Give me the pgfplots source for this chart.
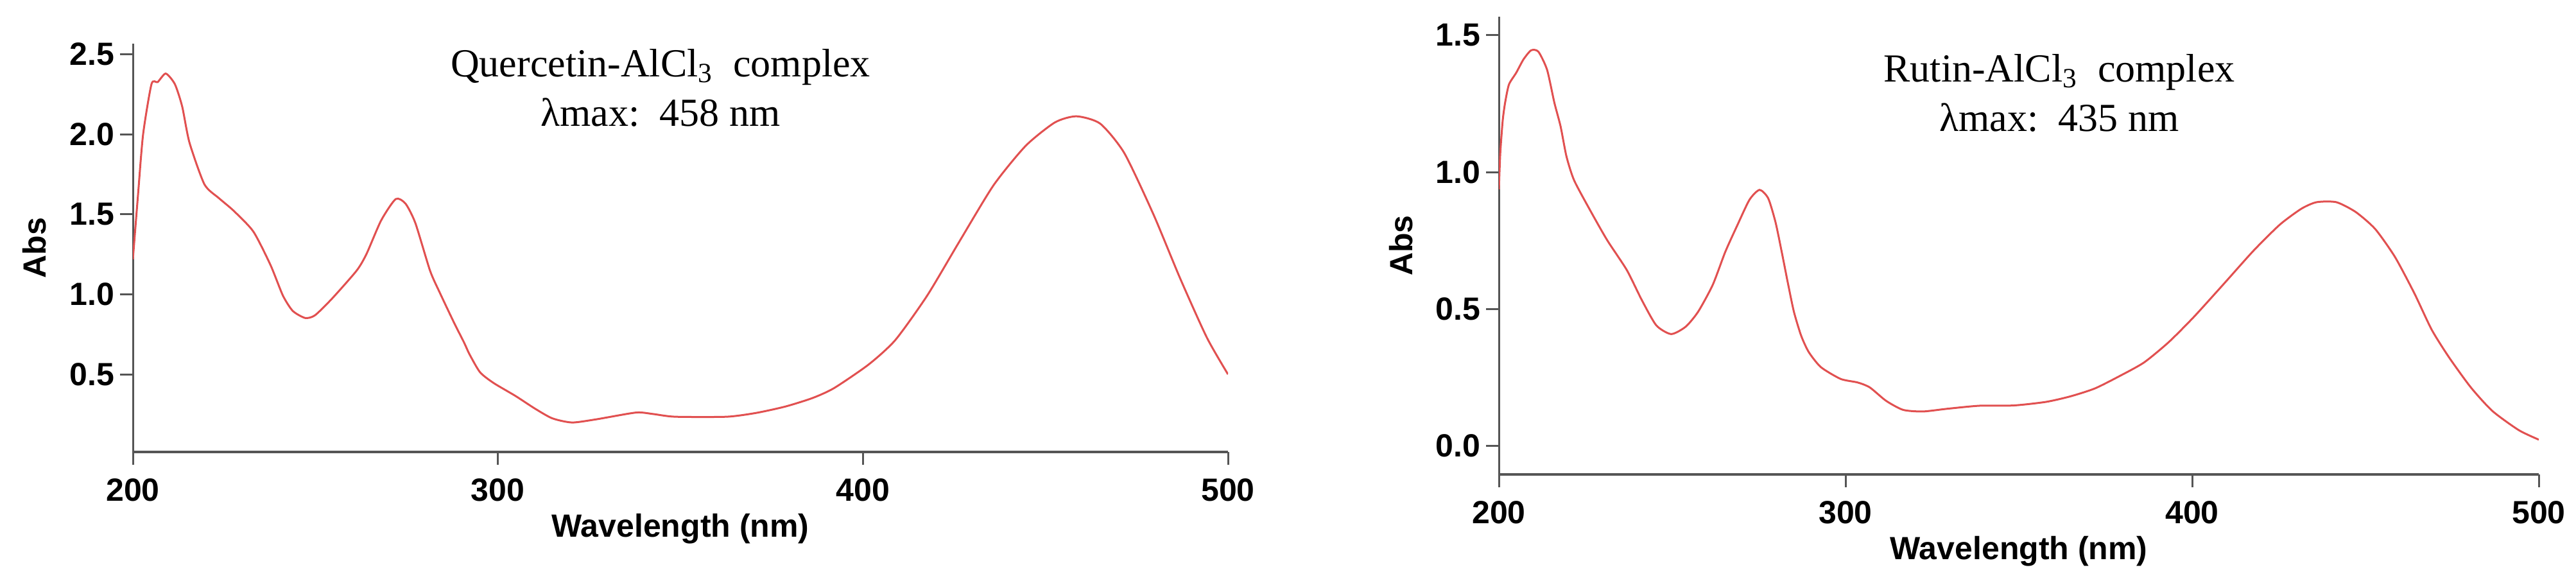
\documentclass[border=0pt]{standalone}
\usepackage{fontspec}
\setmainfont{Liberation Sans}
\newfontfamily\titleserif{Liberation Serif}
\usepackage{pgfplots}
\pgfplotsset{compat=1.18}
\definecolor{specred}{RGB}{225,80,80}
\definecolor{axisgray}{RGB}{85,85,85}

\pgfplotstableread{
x y
200.0 1.22
201.4 1.62
202.8 2.00
205.1 2.314
206.8 2.327
209.0 2.38
211.5 2.314
213.5 2.175
215.5 1.949
219.6 1.688
223.6 1.601
227.6 1.523
233.0 1.393
237.7 1.184
241.1 0.993
243.8 0.897
247.2 0.853
249.9 0.87
254.6 0.975
261.3 1.149
264.0 1.253
268.0 1.462
272.0 1.596
274.7 1.567
277.4 1.445
281.4 1.149
284.1 1.01
288.1 0.818
290.7 0.701
292.2 0.627
295.1 0.514
298.8 0.447
304.8 0.366
310.2 0.286
314.9 0.226
320.3 0.200
327.0 0.220
337.8 0.262
342.5 0.253
348.5 0.236
362.7 0.236
370.8 0.260
378.8 0.300
386.2 0.353
392.1 0.415
401.6 0.563
408.9 0.716
417.6 0.993
426.4 1.330
435.8 1.683
444.6 1.929
452.6 2.075
458.5 2.113
465.0 2.067
471.6 1.883
479.6 1.499
486.9 1.100
494.2 0.731
500.0 0.501
}\quercetin

\pgfplotstableread{
x y
200.0 0.937
200.4 1.068
201.1 1.188
201.8 1.254
202.9 1.320
205.0 1.363
207.1 1.412
209.3 1.445
211.4 1.440
213.9 1.374
216.0 1.254
217.8 1.167
219.5 1.057
221.7 0.970
226.3 0.861
231.2 0.752
236.9 0.642
241.2 0.533
245.4 0.440
249.7 0.408
253.9 0.435
257.5 0.490
261.7 0.588
265.3 0.708
268.8 0.806
272.3 0.899
275.2 0.935
277.7 0.904
279.8 0.817
281.6 0.708
283.3 0.599
285.1 0.490
287.2 0.402
289.4 0.342
292.9 0.287
298.6 0.244
303.5 0.231
307.0 0.213
311.7 0.164
316.6 0.131
322.3 0.125
329.4 0.135
338.6 0.146
348.5 0.147
357.8 0.160
364.8 0.180
371.9 0.209
379.0 0.254
386.1 0.304
393.2 0.378
400.3 0.468
407.4 0.567
410.3 0.608
417.8 0.714
425.3 0.808
431.5 0.866
435.9 0.890
441.6 0.890
447.2 0.854
452.8 0.792
458.5 0.690
464.1 0.557
469.1 0.424
474.1 0.323
480.4 0.213
486.6 0.127
494.2 0.057
500.0 0.022
}\rutin

\pgfplotsset{
  specaxis/.style={
    scale only axis,
    axis x line=bottom,
    axis y line=left,
    axis line style={-},
    x axis line style={line width=1.1pt, draw=axisgray},
    y axis line style={line width=0.75pt, draw=axisgray},
    tick align=outside,
    major tick length=5pt,
    tick style={line width=0.75pt, draw=axisgray},
    xmin=200, xmax=500,
    xtick={200,300,400,500},
    /pgf/number format/assume math mode=true,
    ticklabel style={font=\fontsize{12.5}{15}\selectfont\bfseries},
    yticklabel style={anchor=east, inner sep=0pt, xshift=-2pt,
      /pgf/number format/fixed, /pgf/number format/fixed zerofill,
      /pgf/number format/precision=1},
    xticklabel style={anchor=north, inner sep=0pt, yshift=-5.25pt,
      /pgf/number format/1000 sep={}},
    label style={font=\fontsize{12.5}{15}\selectfont\bfseries},
    xlabel={Wavelength (nm)},
    ylabel={Abs},
    xlabel style={at={(axis description cs:0.5,0)}, anchor=base, inner sep=0pt, yshift=-33.25pt},
    ylabel style={at={([xshift=-33.75pt]axis description cs:0,0.5)}, anchor=base, inner sep=0pt},
  },
}

\begin{document}
\begin{tikzpicture}
\useasboundingbox (0,0) rectangle (1003.25pt,226.25pt);

\begin{axis}[specaxis,
  at={(51.75pt,50.25pt)}, anchor=south west,
  width=426.5pt, height=159pt,
  ymin=0.016, ymax=2.567,
  ytick={0.5,1.0,1.5,2.0,2.5},
]
\addplot[specred, line width=0.75pt, smooth, tension=0.4] table[x=x,y=y] {\quercetin};
\end{axis}

\begin{axis}[specaxis,
  at={(583.75pt,41.5pt)}, anchor=south west,
  width=405pt, height=178.25pt,
  ymin=-0.105, ymax=1.568,
  ytick={0.0,0.5,1.0,1.5},
]
\addplot[specred, line width=0.75pt, smooth, tension=0.4] table[x=x,y=y] {\rutin};
\end{axis}

\node[anchor=base, font=\titleserif\fontsize{15.5}{19}\selectfont] at (257.25pt,196.25pt) {Quercetin-AlCl\textsubscript{3}~~complex};
\node[anchor=base, font=\titleserif\fontsize{15.5}{19}\selectfont] at (257.25pt,177pt) {λmax:~~458 nm};
\node[anchor=base, font=\titleserif\fontsize{15.5}{19}\selectfont] at (802pt,194.25pt) {Rutin-AlCl\textsubscript{3}~~complex};
\node[anchor=base, font=\titleserif\fontsize{15.5}{19}\selectfont] at (802pt,175pt) {λmax:~~435 nm};
\end{tikzpicture}
\end{document}
